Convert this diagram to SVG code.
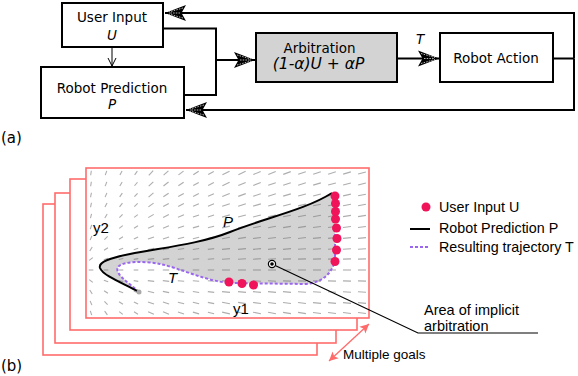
<svg xmlns="http://www.w3.org/2000/svg" width="578" height="376" viewBox="0 0 578 376">
<style>
.box{fill:#fff;stroke:#000;stroke-width:2}
.dv{font-family:"DejaVu Sans",sans-serif;font-size:13.5px;fill:#000}
.it{font-style:italic}
.lb{font-family:"Liberation Sans",Arial,sans-serif;fill:#000}
.cn{fill:none;stroke:#000;stroke-width:2}
.fr{fill:#fff;stroke:#ff6b6b;stroke-width:1.6}
.fld use{stroke:#777;stroke-opacity:0.6;stroke-width:1.1;fill:none}
.ud{fill:#f0145a}
</style>
<defs>
<marker id="ah" markerUnits="userSpaceOnUse" viewBox="-22 -10 24 20" markerWidth="24" markerHeight="20" refX="0" refY="0" orient="auto">
<path d="M0,0 L-21,-8 L-16.5,0 L-21,8 Z" fill="#000"/>
<path d="M-18,-5 L-4,-1 M-18,5 L-4,1 M-15,0 L-5,0" stroke="#fff" stroke-width="0.7" stroke-dasharray="1.5 1.2" fill="none"/>
</marker>
<marker id="av" markerUnits="userSpaceOnUse" viewBox="-9 -6 10 12" markerWidth="10" markerHeight="12" refX="0" refY="0" orient="auto">
<path d="M-8,-4 L0,0 L-8,4" fill="none" stroke="#000" stroke-width="1"/>
</marker>
<marker id="ar" markerUnits="userSpaceOnUse" viewBox="-10 -6 11 12" markerWidth="11" markerHeight="12" refX="0" refY="0" orient="auto-start-reverse">
<path d="M0,0 L-9,-4.5 L-7,0 L-9,4.5 Z" fill="#ff6b6b"/>
</marker>
<path id="s" d="M-2.3 0H2.3"/>
<path id="m" d="M-3.2 0H3.2"/>
<path id="l" d="M-4 0H4"/>
</defs>

<!-- (a) block diagram -->
<g id="connectors">
<path class="cn" d="M553 58.5H574"/>
<path class="cn" d="M574 58.5V13H165" marker-end="url(#ah)"/>
<path class="cn" d="M574 58.5V110H186" marker-end="url(#ah)"/>
<path class="cn" d="M163 28.5H216V95H184"/>
<path class="cn" d="M216 60H255" marker-end="url(#ah)"/>
<path class="cn" d="M397 58.5H439" marker-end="url(#ah)"/>
<path d="M112 48V66" fill="none" stroke="#000" stroke-width="1" marker-end="url(#av)"/>
<text class="dv it" x="416" y="44">T</text>
</g>
<g id="user-input">
<rect class="box" x="62" y="3" width="101" height="44"/>
<text class="dv" x="112" y="22" text-anchor="middle">User Input</text>
<text class="dv it" x="112" y="40" text-anchor="middle">U</text>
</g>
<g id="robot-prediction">
<rect class="box" x="41" y="67" width="143" height="51"/>
<text class="dv" x="112" y="92.5" text-anchor="middle">Robot Prediction</text>
<text class="dv it" x="112" y="109" text-anchor="middle">P</text>
</g>
<g id="arbitration">
<rect class="box" x="256" y="33" width="141" height="49" style="fill:#d3d3d3"/>
<text class="dv" x="319.5" y="53" text-anchor="middle">Arbitration</text>
<text class="dv it" x="318.5" y="68.5" text-anchor="middle" style="font-size:15.5px">(1-α)U + αP</text>
</g>
<g id="robot-action">
<rect class="box" x="440" y="33" width="113" height="49"/>
<text class="dv" x="496" y="63" text-anchor="middle">Robot Action</text>
</g>
<text class="dv" x="1" y="143" style="font-size:15px">(a)</text>

<!-- (b) plot -->
<g id="frames">
<rect class="fr" x="43" y="204" width="274" height="151"/>
<rect class="fr" x="55" y="193" width="281" height="150"/>
<rect class="fr" x="70" y="179" width="287" height="151"/>
<rect class="fr" x="86" y="168" width="283" height="150"/>
</g>
<path id="area" d="M139 292 C125 284,103 276,100 268 C98 262,110 258,130 254 C160 248,200 244,230 232 C265 218,305 210,332 193 L335 195 L335 260 C333 270,325 283,305 284 L230 283 C205 281,180 268,160 264 C145 261,122 261,118 267 C114 274,128 282,139 292 Z" fill="#d3d3d3"/>
<g class="fld">
<g transform="translate(0 173)"><use href="#s" transform="translate(91)rotate(-82)"/><use href="#s" transform="translate(106)rotate(-71)"/><use href="#s" transform="translate(121)rotate(-62)"/><use href="#s" transform="translate(136)rotate(-54)"/><use href="#m" transform="translate(151)rotate(-47)"/><use href="#m" transform="translate(166)rotate(-41)"/><use href="#m" transform="translate(181)rotate(-37)"/><use href="#m" transform="translate(196)rotate(-33)"/><use href="#m" transform="translate(211)rotate(-30)"/><use href="#l" transform="translate(226)rotate(-27)"/><use href="#l" transform="translate(242)rotate(-25)"/><use href="#l" transform="translate(257)rotate(-23)"/><use href="#l" transform="translate(272)rotate(-22)"/><use href="#l" transform="translate(287)rotate(-20)"/><use href="#l" transform="translate(302)rotate(-19)"/><use href="#l" transform="translate(317)rotate(-18)"/><use href="#l" transform="translate(332)rotate(-17)"/><use href="#l" transform="translate(347)rotate(-16)"/><use href="#l" transform="translate(362)rotate(-15)"/></g>
<g transform="translate(0 184)"><use href="#s" transform="translate(91)rotate(-81)"/><use href="#s" transform="translate(106)rotate(-69)"/><use href="#s" transform="translate(121)rotate(-59)"/><use href="#s" transform="translate(136)rotate(-50)"/><use href="#m" transform="translate(151)rotate(-44)"/><use href="#m" transform="translate(166)rotate(-38)"/><use href="#m" transform="translate(181)rotate(-34)"/><use href="#m" transform="translate(196)rotate(-30)"/><use href="#m" transform="translate(211)rotate(-27)"/><use href="#l" transform="translate(226)rotate(-25)"/><use href="#l" transform="translate(242)rotate(-23)"/><use href="#l" transform="translate(257)rotate(-21)"/><use href="#l" transform="translate(272)rotate(-19)"/><use href="#l" transform="translate(287)rotate(-18)"/><use href="#l" transform="translate(302)rotate(-17)"/><use href="#l" transform="translate(317)rotate(-16)"/><use href="#l" transform="translate(332)rotate(-15)"/><use href="#l" transform="translate(347)rotate(-14)"/><use href="#l" transform="translate(362)rotate(-14)"/></g>
<g transform="translate(0 195)"><use href="#s" transform="translate(91)rotate(-79)"/><use href="#s" transform="translate(106)rotate(-67)"/><use href="#s" transform="translate(121)rotate(-55)"/><use href="#s" transform="translate(136)rotate(-47)"/><use href="#m" transform="translate(151)rotate(-40)"/><use href="#m" transform="translate(166)rotate(-34)"/><use href="#m" transform="translate(181)rotate(-30)"/><use href="#m" transform="translate(196)rotate(-27)"/><use href="#m" transform="translate(211)rotate(-24)"/><use href="#l" transform="translate(226)rotate(-22)"/><use href="#l" transform="translate(242)rotate(-20)"/><use href="#l" transform="translate(257)rotate(-19)"/><use href="#l" transform="translate(272)rotate(-17)"/><use href="#l" transform="translate(287)rotate(-16)"/><use href="#l" transform="translate(302)rotate(-15)"/><use href="#l" transform="translate(317)rotate(-14)"/><use href="#l" transform="translate(332)rotate(-13)"/><use href="#l" transform="translate(347)rotate(-13)"/><use href="#l" transform="translate(362)rotate(-12)"/></g>
<g transform="translate(0 205)"><use href="#s" transform="translate(91)rotate(-78)"/><use href="#s" transform="translate(106)rotate(-63)"/><use href="#s" transform="translate(121)rotate(-51)"/><use href="#s" transform="translate(136)rotate(-42)"/><use href="#m" transform="translate(151)rotate(-36)"/><use href="#m" transform="translate(166)rotate(-30)"/><use href="#m" transform="translate(181)rotate(-27)"/><use href="#m" transform="translate(196)rotate(-24)"/><use href="#m" transform="translate(211)rotate(-21)"/><use href="#l" transform="translate(226)rotate(-19)"/><use href="#l" transform="translate(242)rotate(-18)"/><use href="#l" transform="translate(257)rotate(-16)"/><use href="#l" transform="translate(272)rotate(-15)"/><use href="#l" transform="translate(287)rotate(-14)"/><use href="#l" transform="translate(302)rotate(-13)"/><use href="#l" transform="translate(317)rotate(-12)"/><use href="#l" transform="translate(332)rotate(-12)"/><use href="#l" transform="translate(347)rotate(-11)"/><use href="#l" transform="translate(362)rotate(-10)"/></g>
<g transform="translate(0 216)"><use href="#s" transform="translate(91)rotate(-76)"/><use href="#s" transform="translate(106)rotate(-59)"/><use href="#s" transform="translate(121)rotate(-46)"/><use href="#s" transform="translate(136)rotate(-37)"/><use href="#m" transform="translate(151)rotate(-31)"/><use href="#m" transform="translate(166)rotate(-26)"/><use href="#m" transform="translate(181)rotate(-23)"/><use href="#m" transform="translate(196)rotate(-20)"/><use href="#m" transform="translate(211)rotate(-18)"/><use href="#l" transform="translate(226)rotate(-16)"/><use href="#l" transform="translate(242)rotate(-15)"/><use href="#l" transform="translate(257)rotate(-14)"/><use href="#l" transform="translate(272)rotate(-13)"/><use href="#l" transform="translate(287)rotate(-12)"/><use href="#l" transform="translate(302)rotate(-11)"/><use href="#l" transform="translate(317)rotate(-10)"/><use href="#l" transform="translate(332)rotate(-10)"/><use href="#l" transform="translate(347)rotate(-9)"/><use href="#l" transform="translate(362)rotate(-9)"/></g>
<g transform="translate(0 227)"><use href="#s" transform="translate(91)rotate(-72)"/><use href="#s" transform="translate(106)rotate(-53)"/><use href="#s" transform="translate(121)rotate(-39)"/><use href="#s" transform="translate(136)rotate(-31)"/><use href="#m" transform="translate(151)rotate(-25)"/><use href="#m" transform="translate(166)rotate(-21)"/><use href="#m" transform="translate(181)rotate(-18)"/><use href="#m" transform="translate(196)rotate(-16)"/><use href="#m" transform="translate(211)rotate(-15)"/><use href="#l" transform="translate(226)rotate(-13)"/><use href="#l" transform="translate(242)rotate(-12)"/><use href="#l" transform="translate(257)rotate(-11)"/><use href="#l" transform="translate(272)rotate(-10)"/><use href="#l" transform="translate(287)rotate(-9)"/><use href="#l" transform="translate(302)rotate(-9)"/><use href="#l" transform="translate(317)rotate(-8)"/><use href="#l" transform="translate(332)rotate(-8)"/><use href="#l" transform="translate(347)rotate(-7)"/><use href="#l" transform="translate(362)rotate(-7)"/></g>
<g transform="translate(0 238)"><use href="#s" transform="translate(91)rotate(-67)"/><use href="#s" transform="translate(106)rotate(-45)"/><use href="#s" transform="translate(121)rotate(-32)"/><use href="#s" transform="translate(136)rotate(-24)"/><use href="#m" transform="translate(151)rotate(-20)"/><use href="#m" transform="translate(166)rotate(-17)"/><use href="#m" transform="translate(181)rotate(-14)"/><use href="#m" transform="translate(196)rotate(-13)"/><use href="#m" transform="translate(211)rotate(-11)"/><use href="#l" transform="translate(226)rotate(-10)"/><use href="#l" transform="translate(242)rotate(-9)"/><use href="#l" transform="translate(257)rotate(-8)"/><use href="#l" transform="translate(272)rotate(-8)"/><use href="#l" transform="translate(287)rotate(-7)"/><use href="#l" transform="translate(302)rotate(-7)"/><use href="#l" transform="translate(317)rotate(-6)"/><use href="#l" transform="translate(332)rotate(-6)"/><use href="#l" transform="translate(347)rotate(-5)"/><use href="#l" transform="translate(362)rotate(-5)"/></g>
<g transform="translate(0 249)"><use href="#s" transform="translate(91)rotate(-57)"/><use href="#s" transform="translate(106)rotate(-33)"/><use href="#s" transform="translate(121)rotate(-22)"/><use href="#s" transform="translate(136)rotate(-17)"/><use href="#m" transform="translate(151)rotate(-13)"/><use href="#m" transform="translate(166)rotate(-11)"/><use href="#m" transform="translate(181)rotate(-9)"/><use href="#m" transform="translate(196)rotate(-8)"/><use href="#m" transform="translate(211)rotate(-7)"/><use href="#l" transform="translate(226)rotate(-6)"/><use href="#l" transform="translate(242)rotate(-6)"/><use href="#l" transform="translate(257)rotate(-5)"/><use href="#l" transform="translate(272)rotate(-5)"/><use href="#l" transform="translate(287)rotate(-5)"/><use href="#l" transform="translate(302)rotate(-4)"/><use href="#l" transform="translate(317)rotate(-4)"/><use href="#l" transform="translate(332)rotate(-4)"/><use href="#l" transform="translate(347)rotate(-4)"/><use href="#l" transform="translate(362)rotate(-3)"/></g>
<g transform="translate(0 259)"><use href="#s" transform="translate(91)rotate(-39)"/><use href="#s" transform="translate(106)rotate(-19)"/><use href="#s" transform="translate(121)rotate(-12)"/><use href="#s" transform="translate(136)rotate(-9)"/><use href="#m" transform="translate(151)rotate(-7)"/><use href="#m" transform="translate(166)rotate(-6)"/><use href="#m" transform="translate(181)rotate(-5)"/><use href="#m" transform="translate(196)rotate(-4)"/><use href="#m" transform="translate(211)rotate(-4)"/><use href="#l" transform="translate(226)rotate(-3)"/><use href="#l" transform="translate(242)rotate(-3)"/><use href="#l" transform="translate(257)rotate(-3)"/><use href="#l" transform="translate(272)rotate(-3)"/><use href="#l" transform="translate(287)rotate(-2)"/><use href="#l" transform="translate(302)rotate(-2)"/><use href="#l" transform="translate(317)rotate(-2)"/><use href="#l" transform="translate(332)rotate(-2)"/><use href="#l" transform="translate(347)rotate(-2)"/><use href="#l" transform="translate(362)rotate(-2)"/></g>
<g transform="translate(0 270)"><use href="#s" transform="translate(91)"/><use href="#s" transform="translate(106)"/><use href="#s" transform="translate(121)"/><use href="#s" transform="translate(136)"/><use href="#m" transform="translate(151)"/><use href="#m" transform="translate(166)"/><use href="#m" transform="translate(181)"/><use href="#m" transform="translate(196)"/><use href="#m" transform="translate(211)"/><use href="#l" transform="translate(226)"/><use href="#l" transform="translate(242)"/><use href="#l" transform="translate(257)"/><use href="#l" transform="translate(272)"/><use href="#l" transform="translate(287)"/><use href="#l" transform="translate(302)"/><use href="#l" transform="translate(317)"/><use href="#l" transform="translate(332)"/><use href="#l" transform="translate(347)"/><use href="#l" transform="translate(362)"/></g>
<g transform="translate(0 281)"><use href="#s" transform="translate(91)rotate(39)"/><use href="#s" transform="translate(106)rotate(19)"/><use href="#s" transform="translate(121)rotate(12)"/><use href="#s" transform="translate(136)rotate(9)"/><use href="#m" transform="translate(151)rotate(7)"/><use href="#m" transform="translate(166)rotate(6)"/><use href="#m" transform="translate(181)rotate(5)"/><use href="#m" transform="translate(196)rotate(4)"/><use href="#m" transform="translate(211)rotate(4)"/><use href="#l" transform="translate(226)rotate(3)"/><use href="#l" transform="translate(242)rotate(3)"/><use href="#l" transform="translate(257)rotate(3)"/><use href="#l" transform="translate(272)rotate(3)"/><use href="#l" transform="translate(287)rotate(2)"/><use href="#l" transform="translate(302)rotate(2)"/><use href="#l" transform="translate(317)rotate(2)"/><use href="#l" transform="translate(332)rotate(2)"/><use href="#l" transform="translate(347)rotate(2)"/><use href="#l" transform="translate(362)rotate(2)"/></g>
<g transform="translate(0 292)"><use href="#s" transform="translate(91)rotate(57)"/><use href="#s" transform="translate(106)rotate(33)"/><use href="#s" transform="translate(121)rotate(22)"/><use href="#s" transform="translate(136)rotate(17)"/><use href="#m" transform="translate(151)rotate(13)"/><use href="#m" transform="translate(166)rotate(11)"/><use href="#m" transform="translate(181)rotate(9)"/><use href="#m" transform="translate(196)rotate(8)"/><use href="#m" transform="translate(211)rotate(7)"/><use href="#l" transform="translate(226)rotate(6)"/><use href="#l" transform="translate(242)rotate(6)"/><use href="#l" transform="translate(257)rotate(5)"/><use href="#l" transform="translate(272)rotate(5)"/><use href="#l" transform="translate(287)rotate(5)"/><use href="#l" transform="translate(302)rotate(4)"/><use href="#l" transform="translate(317)rotate(4)"/><use href="#l" transform="translate(332)rotate(4)"/><use href="#l" transform="translate(347)rotate(4)"/><use href="#l" transform="translate(362)rotate(3)"/></g>
<g transform="translate(0 303)"><use href="#s" transform="translate(91)rotate(67)"/><use href="#s" transform="translate(106)rotate(45)"/><use href="#s" transform="translate(121)rotate(32)"/><use href="#s" transform="translate(136)rotate(24)"/><use href="#m" transform="translate(151)rotate(20)"/><use href="#m" transform="translate(166)rotate(17)"/><use href="#m" transform="translate(181)rotate(14)"/><use href="#m" transform="translate(196)rotate(13)"/><use href="#m" transform="translate(211)rotate(11)"/><use href="#l" transform="translate(226)rotate(10)"/><use href="#l" transform="translate(242)rotate(9)"/><use href="#l" transform="translate(257)rotate(8)"/><use href="#l" transform="translate(272)rotate(8)"/><use href="#l" transform="translate(287)rotate(7)"/><use href="#l" transform="translate(302)rotate(7)"/><use href="#l" transform="translate(317)rotate(6)"/><use href="#l" transform="translate(332)rotate(6)"/><use href="#l" transform="translate(347)rotate(5)"/><use href="#l" transform="translate(362)rotate(5)"/></g>
<g transform="translate(0 313)"><use href="#s" transform="translate(91)rotate(72)"/><use href="#s" transform="translate(106)rotate(53)"/><use href="#s" transform="translate(121)rotate(39)"/><use href="#s" transform="translate(136)rotate(31)"/><use href="#m" transform="translate(151)rotate(25)"/><use href="#m" transform="translate(166)rotate(21)"/><use href="#m" transform="translate(181)rotate(18)"/><use href="#m" transform="translate(196)rotate(16)"/><use href="#m" transform="translate(211)rotate(15)"/><use href="#l" transform="translate(226)rotate(13)"/><use href="#l" transform="translate(242)rotate(12)"/><use href="#l" transform="translate(257)rotate(11)"/><use href="#l" transform="translate(272)rotate(10)"/><use href="#l" transform="translate(287)rotate(9)"/><use href="#l" transform="translate(302)rotate(9)"/><use href="#l" transform="translate(317)rotate(8)"/><use href="#l" transform="translate(332)rotate(8)"/><use href="#l" transform="translate(347)rotate(7)"/><use href="#l" transform="translate(362)rotate(7)"/></g>
</g>
<path id="curve-T" d="M139 292 C128 282,114 274,118 267 C122 261,145 261,160 264 C180 268,205 281,230 283 L305 284 C325 283,333 270,335 260 L335 195" fill="none" stroke="#9a66f0" stroke-width="2" stroke-dasharray="3 2"/>
<path id="curve-P" d="M139 292 C125 284,103 276,100 268 C98 262,110 258,130 254 C160 248,200 244,230 232 C265 218,305 210,332 193" fill="none" stroke="#000" stroke-width="2"/>
<circle cx="139" cy="292" r="2.5" fill="#aaa"/>
<g id="user-dots">
<circle class="ud" cx="335" cy="196" r="4.5"/>
<circle class="ud" cx="335.5" cy="203.5" r="4.5"/>
<circle class="ud" cx="335.5" cy="211.5" r="4.5"/>
<circle class="ud" cx="335.5" cy="219" r="4.5"/>
<circle class="ud" cx="336.5" cy="228" r="4.5"/>
<circle class="ud" cx="337" cy="238.5" r="4.5"/>
<circle class="ud" cx="336.5" cy="250" r="4.5"/>
<circle class="ud" cx="335" cy="261.5" r="4.5"/>
<circle class="ud" cx="229" cy="282" r="4.5"/>
<circle class="ud" cx="242" cy="283.5" r="4.5"/>
<circle class="ud" cx="253.5" cy="285" r="4.5"/>
</g>
<text class="lb" x="93" y="233" style="font-size:15px">y2</text>
<text class="lb" x="233" y="314" style="font-size:15px">y1</text>
<text class="lb it" x="223" y="227" style="font-size:15px">P</text>
<text class="lb it" x="168" y="283" style="font-size:15px">T</text>
<g id="leader">
<path d="M272 264 L418 333 H538" fill="none" stroke="#000" stroke-width="1.2"/>
<circle cx="272" cy="264" r="3.6" fill="#fff" stroke="#000" stroke-width="1.2"/>
<circle cx="272" cy="264" r="1.8" fill="#000"/>
<text class="lb" x="424" y="315" style="font-size:14.5px">Area of implicit</text>
<text class="lb" x="424" y="330.5" style="font-size:14.5px">arbitration</text>
</g>
<g id="multiple-goals">
<path d="M329 361 L369 324" fill="none" stroke="#ff6b6b" stroke-width="1.3" marker-start="url(#ar)" marker-end="url(#ar)"/>
<text class="lb" x="343" y="358.5" style="font-size:13.5px">Multiple goals</text>
</g>
<g id="legend">
<circle class="ud" cx="426" cy="207" r="4.5"/>
<text class="lb" x="439" y="212" style="font-size:14.3px">User Input U</text>
<path d="M410 229H430" stroke="#000" stroke-width="2"/>
<text class="lb" x="439" y="232.5" style="font-size:14.3px">Robot Prediction P</text>
<path d="M410 247H430" stroke="#9a66f0" stroke-width="2" stroke-dasharray="3 2"/>
<text class="lb" x="439" y="251.5" style="font-size:14.3px">Resulting trajectory T</text>
</g>
<text class="dv" x="1" y="371" style="font-size:15px">(b)</text>
</svg>
